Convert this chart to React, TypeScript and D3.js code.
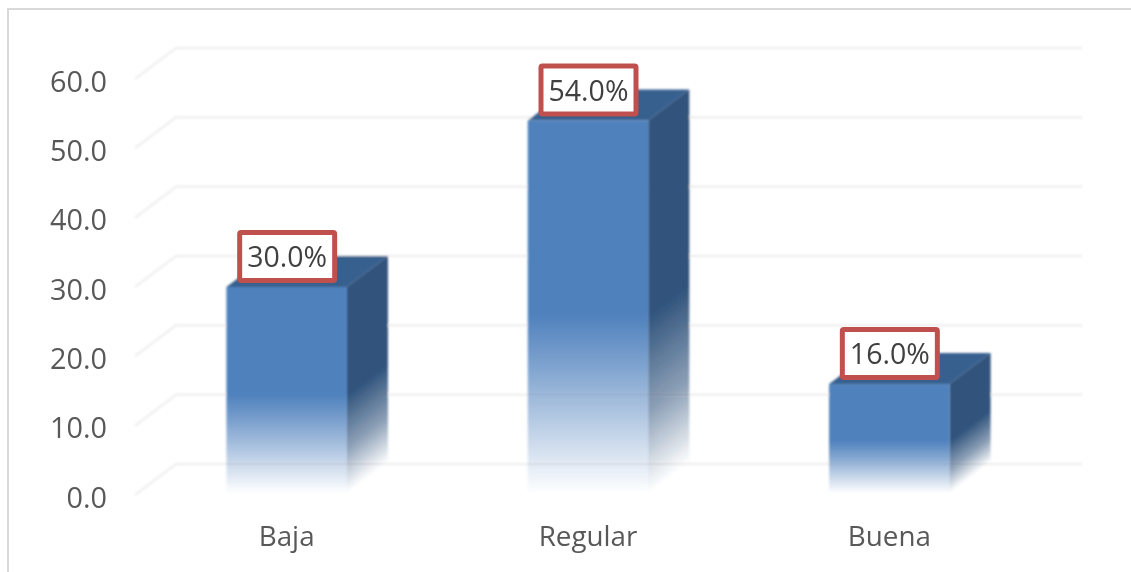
import { useEffect, useRef } from 'react';
import * as d3 from 'd3';

const categories = ['Baja', 'Regular', 'Buena'];
const values = [30, 54, 16];
const labels = ['30.0%', '54.0%', '16.0%'];
const yTicks = [0, 10, 20, 30, 40, 50, 60];

const FONT = '"Open Sans", sans-serif';

export default function App() {
  const svgRef = useRef<SVGSVGElement>(null);

  useEffect(() => {
    if (!svgRef.current) return;

    const svg = d3.select(svgRef.current);
    svg.selectAll('*').remove();

    // 3D depth of the floor, front plane to back wall
    const depthX = 41;
    const depthY = -31;

    const x = d3.scaleBand<string>()
      .domain(categories)
      .range([136, 1040])
      .paddingInner(0.6)
      .paddingOuter(0.3);

    const y = d3.scaleLinear()
      .domain([0, 60])
      .range([495, 79]);

    const defs = svg.append('defs');
    const blur = defs.append('filter').attr('id', 'soft');
    blur.append('feGaussianBlur').attr('stdDeviation', 0.8);
    const blurText = defs.append('filter').attr('id', 'soft-text');
    blurText.append('feGaussianBlur').attr('stdDeviation', 0.4);

    // Outer frame: top and left only are visible
    svg.append('path')
      .attr('d', 'M8,572 V9 H1131')
      .attr('fill', 'none')
      .attr('stroke', '#d9d9d9')
      .attr('stroke-width', 2);

    const chart = svg.append('g').attr('filter', 'url(#soft)');
    const texts = svg.append('g').attr('filter', 'url(#soft-text)');

    // Gridlines run along the floor and then across the back wall
    yTicks.forEach(t => {
      chart.append('path')
        .attr('d', `M135,${y(t)} l${depthX},${depthY} H1082`)
        .attr('fill', 'none')
        .attr('stroke', '#f0f0f0')
        .attr('stroke-width', 2.5);
    });

    // Axis labels
    yTicks.forEach(t => {
      texts.append('text')
        .attr('x', 107)
        .attr('y', y(t) + 12.5)
        .attr('text-anchor', 'end')
        .attr('fill', '#595959')
        .style('font-family', FONT)
        .style('font-size', '28.8px')
        .text(t.toFixed(1));
    });

    categories.forEach(c => {
      texts.append('text')
        .attr('x', (x(c) as number) + x.bandwidth() / 2)
        .attr('y', 546)
        .attr('text-anchor', 'middle')
        .attr('fill', '#595959')
        .style('font-family', FONT)
        .style('font-size', '27.8px')
        .text(c);
    });

    // Bars
    const floorY = y(0) - 2;
    categories.forEach((c, i) => {
      const left = x(c) as number;
      const right = left + x.bandwidth();
      const top = y(values[i]);
      const fadeY = top + (floorY - top) * 0.52;
      const fadeLen = floorY - fadeY;

      const front = defs.append('linearGradient')
        .attr('id', `front-${i}`)
        .attr('gradientUnits', 'userSpaceOnUse')
        .attr('x1', 0).attr('y1', fadeY)
        .attr('x2', 0).attr('y2', floorY);
      front.append('stop').attr('offset', 0).attr('stop-color', '#4f81bd');
      front.append('stop').attr('offset', 0.3).attr('stop-color', '#4f81bd').attr('stop-opacity', 0.72);
      front.append('stop').attr('offset', 1).attr('stop-color', '#4f81bd').attr('stop-opacity', 0);

      // Side face fades across lines parallel to the depth direction
      const norm = Math.hypot(depthX, depthY);
      const nx = -depthY / norm;
      const ny = depthX / norm;
      const proj = fadeLen * ny;
      const side = defs.append('linearGradient')
        .attr('id', `side-${i}`)
        .attr('gradientUnits', 'userSpaceOnUse')
        .attr('x1', right).attr('y1', fadeY)
        .attr('x2', right + nx * proj).attr('y2', fadeY + ny * proj);
      side.append('stop').attr('offset', 0).attr('stop-color', '#30537c');
      side.append('stop').attr('offset', 0.55).attr('stop-color', '#30537c').attr('stop-opacity', 0.55);
      side.append('stop').attr('offset', 1).attr('stop-color', '#30537c').attr('stop-opacity', 0);

      chart.append('path')
        .attr('d', `M${left},${top} l${depthX},${depthY} H${right + depthX} L${right},${top} Z`)
        .attr('fill', '#38608f');

      chart.append('path')
        .attr('d', `M${right},${top} l${depthX},${depthY} V${floorY + depthY} L${right},${floorY} Z`)
        .attr('fill', `url(#side-${i})`);

      chart.append('rect')
        .attr('x', left)
        .attr('y', top)
        .attr('width', right - left)
        .attr('height', floorY - top)
        .attr('fill', `url(#front-${i})`);
    });

    // Data labels in boxes, sitting over the top-front edge
    categories.forEach((c, i) => {
      const cx = (x(c) as number) + x.bandwidth() / 2 + 0.5;
      const top = y(values[i]);
      svg.append('rect')
        .attr('x', cx - 47.5)
        .attr('y', top - 54.5)
        .attr('width', 95)
        .attr('height', 48)
        .attr('rx', 1.5)
        .attr('fill', '#ffffff')
        .attr('stroke', '#c0504d')
        .attr('stroke-width', 5);

      svg.append('text')
        .attr('x', cx)
        .attr('y', top - 20)
        .attr('text-anchor', 'middle')
        .attr('fill', '#404040')
        .attr('filter', 'url(#soft-text)')
        .style('font-family', FONT)
        .style('font-size', '28.5px')
        .text(labels[i]);
    });
  }, []);

  return (
    <div style={{ position: 'absolute', left: 0, top: 0 }}>
      <svg ref={svgRef} width={1131} height={572} style={{ display: 'block' }} />
    </div>
  );
}
